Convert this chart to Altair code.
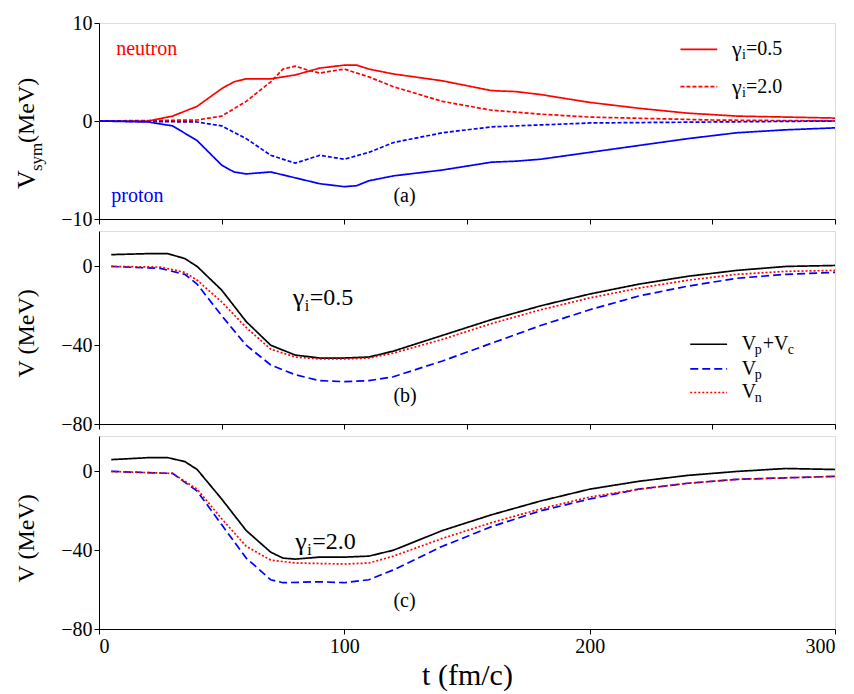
import altair as alt
import pandas as pd

FONT = "Liberation Serif"

# ---- panel (a): symmetry potential
t_a_n05 = [0, 20, 30, 40, 50, 55, 60, 70, 80, 90, 100, 105, 110, 120, 140, 160, 170, 180, 200, 220, 240, 260, 280, 300]
v_a_n05 = [0, 0, 0.5, 1.5, 3.3, 4.0, 4.3, 4.3, 4.7, 5.4, 5.7, 5.7, 5.3, 4.8, 4.1, 3.1, 3.0, 2.7, 1.9, 1.3, 0.8, 0.5, 0.4, 0.3]
t_a_n20 = [0, 40, 50, 60, 70, 75, 80, 85, 90, 100, 110, 120, 140, 160, 180, 200, 250, 300]
v_a_n20 = [0, 0.1, 0.5, 2.0, 4.0, 5.3, 5.6, 5.2, 4.9, 5.3, 4.5, 3.5, 2.0, 1.1, 0.7, 0.4, 0.1, 0]
t_a_p05 = [0, 20, 30, 40, 50, 55, 60, 70, 80, 90, 100, 105, 110, 120, 140, 160, 170, 180, 200, 220, 240, 260, 280, 300]
v_a_p05 = [0, -0.1, -0.5, -2, -4.5, -5.2, -5.4, -5.2, -5.8, -6.4, -6.7, -6.6, -6.1, -5.6, -5.0, -4.2, -4.1, -3.9, -3.2, -2.5, -1.8, -1.2, -0.9, -0.7]
t_a_p20 = [0, 40, 50, 60, 70, 80, 85, 90, 100, 110, 120, 140, 160, 200, 300]
v_a_p20 = [0, -0.1, -0.5, -1.8, -3.5, -4.3, -3.9, -3.5, -3.9, -3.2, -2.2, -1.2, -0.6, -0.2, 0]

# ---- panel (b): gamma_i = 0.5
t_b_tot = [5, 20, 28, 35, 40, 50, 60, 70, 80, 90, 100, 110, 120, 140, 160, 180, 200, 220, 240, 260, 280, 300]
v_b_tot = [6, 6.5, 6.5, 4, 0, -12, -28, -40, -45, -46.5, -46.5, -46, -43, -35, -27, -20, -14, -9, -5, -2, 0, 0.5]
t_b_p = [5, 25, 35, 40, 50, 60, 70, 80, 90, 100, 110, 120, 140, 160, 180, 200, 220, 240, 260, 280, 300]
v_b_p = [0, -1, -4, -9, -25, -40, -50, -55, -58, -58.5, -58, -56, -48, -39, -30, -22, -15, -10, -6, -4, -3]
t_b_n = [5, 25, 35, 40, 50, 60, 70, 80, 90, 100, 110, 120, 140, 160, 180, 200, 220, 240, 260, 280, 300]
v_b_n = [0, -0.3, -3, -7, -18, -31, -42, -46, -47, -47, -46.5, -44, -37, -29, -22, -16, -11, -7, -4, -2.5, -2]

# ---- panel (c): gamma_i = 2.0
t_c_tot = [5, 20, 28, 35, 40, 50, 60, 70, 75, 80, 90, 100, 110, 120, 140, 160, 180, 200, 220, 240, 260, 280, 300]
v_c_tot = [6, 7, 7, 5, 1, -14, -30, -41, -44, -44.5, -43.5, -43.5, -43, -40, -30, -22, -15, -9, -5, -2, 0, 1.5, 1]
t_c_p = [5, 30, 40, 50, 60, 70, 75, 90, 100, 110, 120, 140, 160, 180, 200, 220, 240, 260, 300]
v_c_p = [0, -1, -10, -27, -44, -55, -56.5, -56, -56.5, -55, -50, -38, -28, -20, -14, -9, -6, -4, -2.5]
t_c_n = [5, 30, 40, 50, 60, 70, 80, 100, 110, 120, 140, 160, 180, 200, 220, 240, 260, 300]
v_c_n = [0, -1, -9, -24, -38, -45, -46.5, -47, -46.5, -43, -34, -26, -19, -13, -9, -6, -4, -2.5]


def series(t, v, name):
    return pd.DataFrame({"t": t, "v": v, "s": name})


xscale = alt.Scale(domain=[0, 300], nice=False)
W = 736

# one colour / dash table for all panels
names = ["n05", "n20", "p05", "p20", "tot", "p", "n"]
sc_col = alt.Scale(domain=names, range=["red", "red", "blue", "blue", "black", "blue", "red"])
sc_dash = alt.Scale(domain=names, range=[[1, 0], [4, 2], [1, 0], [4, 2], [1, 0], [8, 4], [2, 2]])


def xaxis(show):
    if show:
        return alt.X("t:Q", scale=xscale, axis=alt.Axis(
            title="t (fm/c)", titleFont=FONT, titleFontSize=30, titleFontWeight="normal",
            labelFont=FONT, labelFontSize=20, values=[0, 100, 200, 300], grid=False,
            tickColor="black", domainColor="black", labelColor="black", titlePadding=4))
    return alt.X("t:Q", scale=xscale, axis=alt.Axis(
        title=None, labels=False, values=[0, 50, 100, 150, 200, 250, 300], grid=False,
        tickColor="black", domainColor="black", tickSize=5))


def yaxis(dom, vals):
    return alt.Y("v:Q", scale=alt.Scale(domain=dom, nice=False), axis=alt.Axis(
        title=None, values=vals, grid=False, labelFont=FONT, labelFontSize=20,
        labelColor="black", tickColor="black", domainColor="black"))


def texts(rows, dom):
    # rows: (t, v, text, size, dx, dy, color)
    layers = []
    for t, v, txt, size, dx, dy, col in rows:
        layers.append(alt.Chart(pd.DataFrame({"t": [t], "v": [v], "txt": [txt]})).mark_text(
            font=FONT, fontSize=size, align="left", baseline="middle",
            dx=dx, dy=dy, color=col).encode(
            x=alt.X("t:Q", scale=xscale), y=alt.Y("v:Q", scale=alt.Scale(domain=dom, nice=False)),
            text="txt:N"))
    return layers


def ytitle(y_px, parts):
    out = []
    for txt, size, xo, yo in parts:
        out.append(alt.Chart(pd.DataFrame({"a": [txt]})).mark_text(
            font=FONT, fontSize=size, angle=270, align="left", baseline="middle", color="black").encode(
            x=alt.value(xo), y=alt.value(y_px + yo), text="a:N"))
    return out


def line_layer(df, dom, vals, show_x):
    return alt.Chart(df).mark_line(strokeWidth=1.7).encode(
        x=xaxis(show_x), y=yaxis(dom, vals),
        color=alt.Color("s:N", scale=sc_col, legend=None),
        strokeDash=alt.StrokeDash("s:N", scale=sc_dash, legend=None),
        detail="grp:N")


# panel a
dom_a = [-10, 10]
df_a = pd.concat([series(t_a_n05, v_a_n05, "n05"), series(t_a_n20, v_a_n20, "n20"),
                  series(t_a_p05, v_a_p05, "p05"), series(t_a_p20, v_a_p20, "p20")])
df_a["grp"] = df_a["s"]
leg_a = pd.concat([series([237, 252], [7.3, 7.3], "n05"), series([237, 252], [3.5, 3.5], "n20")])
leg_a["grp"] = leg_a["s"] + "L"
df_a = pd.concat([df_a, leg_a])
txt_a = texts([
    (7, 7.3, "neutron", 20, 0, 0, "red"),
    (5, -7.7, "proton", 20, 0, 0, "blue"),
    (120, -7.7, "(a)", 20, 0, 0, "black"),
    (258, 7.3, "γ", 22, 0, 0, "black"), (258, 7.3, "i", 14, 10, 6, "black"), (258, 7.3, "=0.5", 20, 14, 0, "black"),
    (258, 3.5, "γ", 22, 0, 0, "black"), (258, 3.5, "i", 14, 10, 6, "black"), (258, 3.5, "=2.0", 20, 14, 0, "black"),
], dom_a)
H_A = 196
panel_a = alt.layer(line_layer(df_a, dom_a, [-10, 0, 10], False), *txt_a,
                    *ytitle(166, [("V", 26, -72, 0), ("sym", 17, -62, -18), ("(MeV)", 24, -72, -46)])
                    ).properties(width=W, height=H_A)

dom_bc = [-80, 18]


def vpanel(t1, v1, t2, v2, t3, v3, label, gamma_t, gamma_v, legend, show_x, h):
    df = pd.concat([series(t1, v1, "tot"), series(t2, v2, "p"), series(t3, v3, "n")])
    df["grp"] = df["s"]
    leg_rows = []
    if legend:
        ldf = pd.concat([series([241, 256], [-39.5, -39.5], "tot"), series([241, 256], [-52, -52], "p"),
                         series([241, 256], [-64, -64], "n")])
        ldf["grp"] = ldf["s"] + "L"
        df = pd.concat([df, ldf])
        leg_rows = [
            (262, -39.5, "V", 20, 0, 0, "black"), (262, -39.5, "p", 14, 13, 6, "black"),
            (262, -39.5, "+V", 20, 21, 0, "black"), (262, -39.5, "c", 14, 46, 6, "black"),
            (262, -52, "V", 20, 0, 0, "black"), (262, -52, "p", 14, 13, 6, "black"),
            (262, -64, "V", 20, 0, 0, "black"), (262, -64, "n", 14, 13, 6, "black"),
        ]
    rows = [(120, -66, label, 20, 0, 0, "black"),
            (gamma_t, gamma_v, "γ", 26, 0, 0, "black"), (gamma_t, gamma_v, "i", 16, 12, 8, "black"),
            (gamma_t, gamma_v, "=" + ("0.5" if legend else "2.0"), 24, 17, 0, "black")] + leg_rows
    return alt.layer(line_layer(df, dom_bc, [-80, -40, 0], show_x), *texts(rows, dom_bc),
                     *ytitle(h / 2 + 50, [("V (MeV)", 24, -72, 0)])).properties(width=W, height=h)


panel_b = vpanel(t_b_tot, v_b_tot, t_b_p, v_b_p, t_b_n, v_b_n, "(b)", 79, -16, True, False, 193)
panel_c = vpanel(t_c_tot, v_c_tot, t_c_p, v_c_p, t_c_n, v_c_n, "(c)", 80, -36, False, True, 193)

chart = alt.vconcat(panel_a, panel_b, panel_c, spacing=0).properties(
    padding={"top": 4, "left": 5, "right": 5, "bottom": 2}
).configure_view(stroke="black", strokeWidth=1).configure(background="white")
chart.save("out.html", embed_options={"renderer": "svg", "actions": False})
